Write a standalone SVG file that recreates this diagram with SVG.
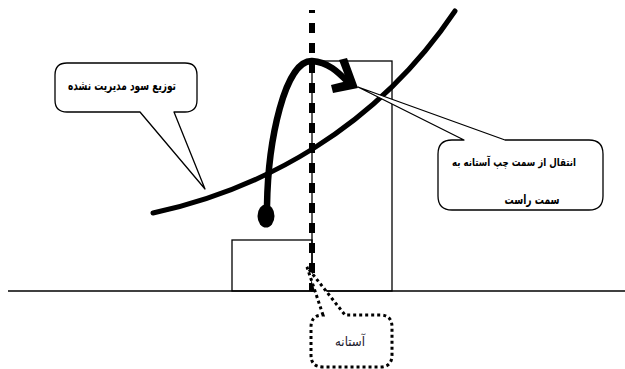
<svg xmlns="http://www.w3.org/2000/svg" width="625" height="369" viewBox="0 0 625 369">
<style>
.thin{fill:none;stroke:#000;stroke-width:1.3}
.thick{fill:none;stroke:#000;stroke-width:5;stroke-linecap:round}
.call{fill:#fff;stroke:#000;stroke-width:1.3;stroke-linejoin:round}
.dot{fill:#fff;stroke:#000;stroke-width:3;stroke-dasharray:3 3}
.lbl{font-family:"DejaVu Sans",sans-serif;font-weight:bold;font-size:13px;fill:#000}
</style>
<rect width="625" height="369" fill="#fff"/>
<g id="bars">
<rect class="thin" x="232" y="240" width="80" height="51"/>
<rect class="thin" x="312" y="61" width="80" height="230"/>
</g>
<g id="axis">
<line x1="8" y1="291" x2="625" y2="291" stroke="#000" stroke-width="1.5"/>
</g>
<g id="curve">
<path class="thick" d="M153,213 C260,190 375,130 455,11"/>
</g>
<g id="threshold">
<line x1="312" y1="10" x2="312" y2="291" stroke="#000" stroke-width="6" stroke-dasharray="10 10" stroke-dashoffset="7"/>
</g>
<g id="connectors">
<path fill="none" stroke="#000" stroke-width="6.5" d="M267,206 C268,140 285,60 312,61 C328,62 338,72 348,82"/>
<ellipse cx="266" cy="216" rx="8.5" ry="11.5" fill="#000"/>
<polygon points="339,60 347,58 358,88 333,93 331,85 347,81" fill="#000"/>
</g>
<g id="callout-left">
<path class="call" d="M67,63 H185 Q197,63 197,75 V100 Q197,112 185,112 H174 L205,189 L140,112 H67 Q55,112 55,100 V75 Q55,63 67,63 Z"/>
<text class="lbl" x="122" y="90" text-anchor="middle" direction="rtl" textLength="108" lengthAdjust="spacingAndGlyphs">توزیع سود مدیریت نشده</text>
</g>
<g id="callout-right">
<path class="call" d="M452,140 H464 L358,87 L505,140 H589 Q603,140 603,154 V196 Q603,210 589,210 H452 Q438,210 438,196 V154 Q438,140 452,140 Z"/>
<text class="lbl" x="514" y="166" text-anchor="middle" direction="rtl" font-size="11" textLength="124" lengthAdjust="spacingAndGlyphs" style="font-size:11px">انتقال از سمت چپ آستانه به</text>
<text class="lbl" x="532" y="204" text-anchor="middle" direction="rtl" textLength="55" lengthAdjust="spacingAndGlyphs">سمت راست</text>
</g>
<g id="callout-bottom">
<path class="dot" d="M323,315 L307,267 L345,315 H380 Q392,315 392,327 V355 Q392,367 380,367 H323 Q311,367 311,355 V327 Q311,315 323,315 Z"/>
<text x="350" y="346" text-anchor="middle" direction="rtl" font-family="DejaVu Sans, sans-serif" font-size="13" fill="#1a1a2e" textLength="30" lengthAdjust="spacingAndGlyphs">آستانه</text>
</g>
</svg>
